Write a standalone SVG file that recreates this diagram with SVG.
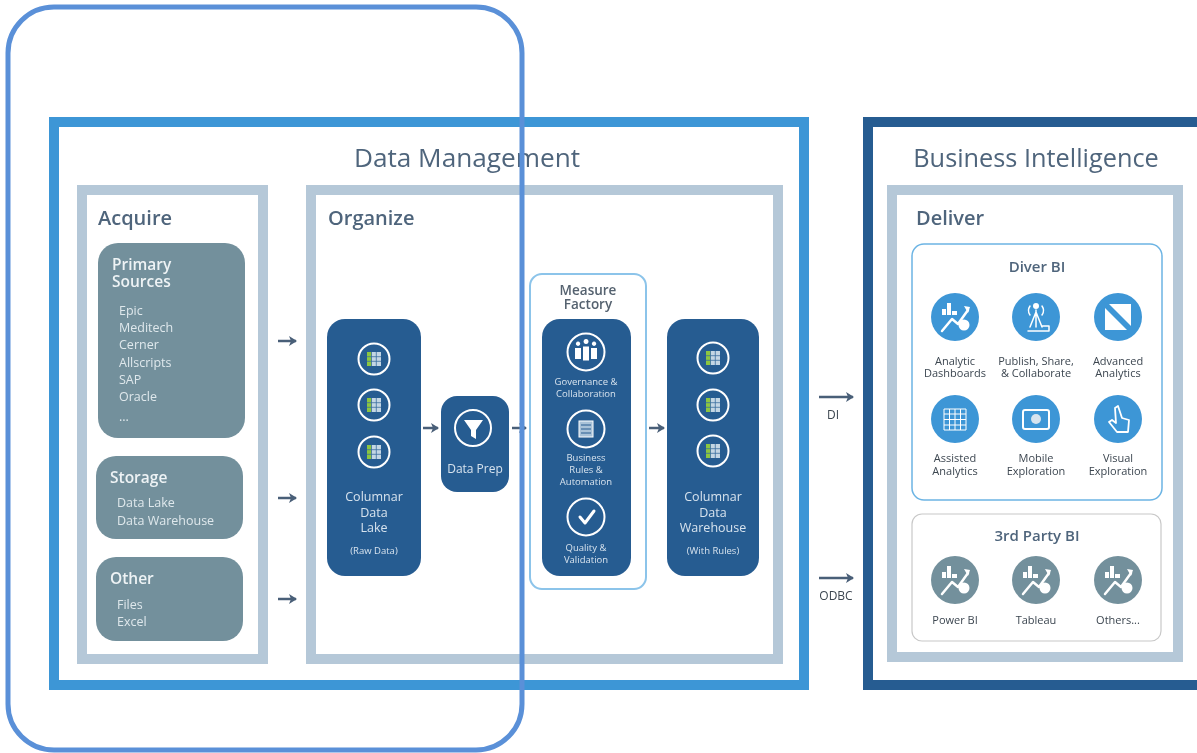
<svg xmlns="http://www.w3.org/2000/svg" xmlns:xlink="http://www.w3.org/1999/xlink" width="1197" height="753" viewBox="0 0 1197 753">
<style>
text{font-family:"Open Sans","Liberation Sans",sans-serif}
.c{text-anchor:middle}
.frame{fill:#fff;stroke:#b5c8d8;stroke-width:10}
.gray{fill:#73909c}
.navy{fill:#285c91}
.h1{font-size:26.200px;fill:#4f657c}
.h2{font-size:20px;font-weight:600;fill:#4f657c}
.h3{font-size:15.500px;font-weight:600;fill:#eef3f5}
.li{font-size:12.500px;fill:#dfe8ec}
.w{font-size:12.500px;fill:#d6e3ee}
.ws{font-size:9.500px;fill:#d6e3ee}
.lb{font-size:11px;fill:#3c4650}
.sub{font-size:15px;font-weight:600;fill:#4f657c}
.mf{font-size:13.500px;font-weight:600;fill:#55626f}
.ring{fill:none;stroke:#fff;stroke-width:2}
.ic{fill:none;stroke:#fff;stroke-width:2.500;stroke-linecap:round;stroke-linejoin:round}
.icf{fill:#fff}
.arr{stroke:#4a5f78;stroke-width:2.500;fill:none}
</style>
<defs>
<filter id="soft" x="-2%" y="-2%" width="104%" height="104%"><feGaussianBlur stdDeviation="0.6"/></filter>
<marker id="ah" viewBox="0 0 8 10" refX="7" refY="5" markerWidth="8" markerHeight="10" markerUnits="userSpaceOnUse" orient="auto"><path d="M0 0L8 5L0 10L2 5Z" fill="#4a5f78"/></marker>
<g id="tbl">
<circle r="15.500" class="ring"/>
<rect x="-7" y="-7" width="14" height="14" fill="#c4d6e4"/>
<rect x="-7" y="-7" width="4.500" height="14" fill="#8cc63f"/>
<path d="M-7-2.300H7M-7 2.300H7M-2.500-7V7M2.300-7V7" stroke="#3b6f9f" stroke-width="0.800"/>
</g>
<g id="dash">
<path class="ic" d="M-13 14L-3 2L3 7L13-7"/>
<path class="icf" d="M-13-8h4v6h-4zM-8-14h4v12h-4zM-3-6h5v4h-5zM9-11l6 1-2 6z"/>
<circle cx="9" cy="8" r="5.500" class="icf"/>
</g>
</defs>
<g filter="url(#soft)">
<g id="data-management">
<rect x="54" y="122" width="750" height="563" fill="#fff" stroke="#3d96d6" stroke-width="10"/>
<text class="h1 c" x="467" y="167">Data Management</text>
</g>
<g id="business-intelligence">
<rect x="868" y="122" width="360" height="563" fill="#fff" stroke="#285c91" stroke-width="10"/>
<text class="h1 c" x="1036" y="167" style="font-size:25.300px">Business Intelligence</text>
</g>
<g id="acquire">
<rect class="frame" x="82" y="190" width="181" height="469"/>
<text class="h2" x="98" y="225">Acquire</text>
</g>
<g id="primary-sources">
<rect class="gray" x="98" y="243" width="147" height="195" rx="20"/>
<text class="h3"><tspan x="112" y="270">Primary</tspan><tspan x="112" y="287">Sources</tspan></text>
<text class="li" x="119" y="315">Epic</text>
<text class="li" x="119" y="332">Meditech</text>
<text class="li" x="119" y="349">Cerner</text>
<text class="li" x="119" y="367">Allscripts</text>
<text class="li" x="119" y="384">SAP</text>
<text class="li" x="119" y="401">Oracle</text>
<text class="li" x="119" y="421">...</text>
</g>
<g id="storage">
<rect class="gray" x="96" y="456" width="147" height="83" rx="20"/>
<text class="h3" x="110" y="483">Storage</text>
<text class="li" x="117" y="507">Data Lake</text>
<text class="li" x="117" y="525">Data Warehouse</text>
</g>
<g id="other">
<rect class="gray" x="96" y="557" width="147" height="84" rx="20"/>
<text class="h3" x="110" y="584">Other</text>
<text class="li" x="117" y="609">Files</text>
<text class="li" x="117" y="626">Excel</text>
</g>
<g id="organize">
<rect class="frame" x="311" y="190" width="467" height="469"/>
<text class="h2" x="328" y="225">Organize</text>
</g>
<g id="columnar-data-lake">
<rect class="navy" x="327" y="319" width="94" height="257" rx="18"/>
<use href="#tbl" x="374" y="359"/><use href="#tbl" x="374" y="405"/><use href="#tbl" x="374" y="452"/>
<text class="w c" x="374" y="501">Columnar</text>
<text class="w c" x="374" y="517">Data</text>
<text class="w c" x="374" y="532">Lake</text>
<text class="ws c" x="374" y="554">(Raw Data)</text>
</g>
<g id="data-prep">
<rect class="navy" x="441" y="396" width="68" height="96" rx="16"/>
<circle class="ring" cx="473" cy="428" r="18"/>
<path class="icf" d="M464 420H483L476 430V439L471 436V430Z"/>
<text class="w c" x="475" y="473" style="font-size:12px">Data Prep</text>
</g>
<g id="measure-factory">
<rect x="530" y="274" width="116" height="315" rx="12" fill="#fff" stroke="#8cc4ea" stroke-width="2"/>
<text class="mf c"><tspan x="588" y="295">Measure</tspan><tspan x="588" y="309">Factory</tspan></text>
<rect class="navy" x="542" y="319" width="89" height="257" rx="18"/>
<circle class="ring" cx="586" cy="352" r="18.500"/>
<path class="icf" d="M578 346a2.200 2.200 0 1 1 .1 0zM586 344a2.500 2.500 0 1 1 .1 0zM594 346a2.200 2.200 0 1 1 .1 0zM575 348h6v11h-6zM583 346.500h6v14h-6zM591 348h6v11h-6z"/>
<text class="ws c" x="586" y="385">Governance &amp;</text>
<text class="ws c" x="586" y="397">Collaboration</text>
<circle class="ring" cx="586" cy="429" r="18.500"/>
<rect x="579" y="421" width="14" height="16" fill="#a9c2d8" stroke="#fff"/>
<path d="M581 425h10M581 429h10M581 433h10" stroke="#285c91"/>
<text class="ws c" x="586" y="461">Business</text>
<text class="ws c" x="586" y="473">Rules &amp;</text>
<text class="ws c" x="586" y="485">Automation</text>
<circle class="ring" cx="586" cy="517" r="18.500"/>
<path class="ic" style="stroke-width:3" d="M580 517L585 523L594 511"/>
<text class="ws c" x="586" y="551">Quality &amp;</text>
<text class="ws c" x="586" y="563">Validation</text>
</g>
<g id="columnar-data-warehouse">
<rect class="navy" x="667" y="319" width="92" height="257" rx="18"/>
<use href="#tbl" x="713" y="358"/><use href="#tbl" x="713" y="405"/><use href="#tbl" x="713" y="451"/>
<text class="w c" x="713" y="501">Columnar</text>
<text class="w c" x="713" y="517">Data</text>
<text class="w c" x="713" y="532">Warehouse</text>
<text class="ws c" x="713" y="554">(With Rules)</text>
</g>
<g id="deliver">
<rect class="frame" x="892" y="190" width="286" height="467"/>
<text class="h2" x="916" y="225">Deliver</text>
</g>
<g id="diver-bi">
<rect x="912" y="244" width="250" height="256" rx="12" fill="#fff" stroke="#6cb4e4" stroke-width="1.500"/>
<text class="sub c" x="1037" y="272">Diver BI</text>
</g>
<g id="analytic-dashboards">
<circle cx="955" cy="317" r="24" fill="#3d96d6"/><use href="#dash" x="955" y="317"/>
<text class="lb c" x="955" y="365">Analytic</text><text class="lb c" x="955" y="377">Dashboards</text>
</g>
<g id="publish-share">
<circle cx="1036" cy="317" r="24" fill="#3d96d6"/>
<path class="ic" style="stroke-width:1.500" d="M1036 310V327M1030 327L1036 312L1042 327M1028 331H1049V326H1042"/>
<path class="ic" style="stroke-width:1.500" d="M1030 306a8 8 0 0 0 0 9M1042 306a8 8 0 0 1 0 9"/>
<circle cx="1036" cy="306" r="3" class="icf"/>
<text class="lb c" x="1036" y="365">Publish, Share,</text><text class="lb c" x="1036" y="377">&amp; Collaborate</text>
</g>
<g id="advanced-analytics">
<circle cx="1118" cy="317" r="24" fill="#3d96d6"/>
<rect x="1105" y="304" width="26" height="26" class="icf"/>
<path d="M1105 304H1109L1131 326V330H1127L1105 308Z" fill="#3d96d6"/>
<text class="lb c" x="1118" y="365">Advanced</text><text class="lb c" x="1118" y="377">Analytics</text>
</g>
<g id="assisted-analytics">
<circle cx="955" cy="419" r="24" fill="#3d96d6"/>
<path d="M944 409H966V430H944ZM944 414H966M944 419.500H966M944 425H966M949.500 409V430M955 409V430M960.500 409V430" stroke="#fff" stroke-width="1" fill="none"/>
<text class="lb c" x="955" y="462">Assisted</text><text class="lb c" x="955" y="475">Analytics</text>
</g>
<g id="mobile-exploration">
<circle cx="1036" cy="419" r="24" fill="#3d96d6"/>
<rect x="1023" y="410" width="26" height="19" rx="2" fill="none" stroke="#fff" stroke-width="2"/>
<circle cx="1036" cy="419" r="5" fill="#d6e3ee"/>
<text class="lb c" x="1036" y="462">Mobile</text><text class="lb c" x="1036" y="475">Exploration</text>
</g>
<g id="visual-exploration">
<circle cx="1118" cy="419" r="24" fill="#3d96d6"/>
<path class="ic" style="stroke-width:1.800" d="M1115 408L1118 406L1122 418L1129 420L1128 432H1117L1109 422L1112 420L1116 423Z"/>
<text class="lb c" x="1118" y="462">Visual</text><text class="lb c" x="1118" y="475">Exploration</text>
</g>
<g id="third-party-bi">
<rect x="912" y="514" width="249" height="127" rx="10" fill="#fff" stroke="#c8c8c8" stroke-width="1.200"/>
<text class="sub c" x="1037" y="541">3rd Party BI</text>
</g>
<g id="power-bi">
<circle cx="955" cy="580" r="24" class="gray"/><use href="#dash" x="955" y="580"/>
<text class="lb c" x="955" y="624">Power BI</text>
</g>
<g id="tableau">
<circle cx="1036" cy="580" r="24" class="gray"/><use href="#dash" x="1036" y="580"/>
<text class="lb c" x="1036" y="624">Tableau</text>
</g>
<g id="others">
<circle cx="1118" cy="580" r="24" class="gray"/><use href="#dash" x="1118" y="580"/>
<text class="lb c" x="1118" y="624">Others...</text>
</g>
<g id="connectors">
<path class="arr" marker-end="url(#ah)" d="M278 341H296"/>
<path class="arr" marker-end="url(#ah)" d="M278 498H296"/>
<path class="arr" marker-end="url(#ah)" d="M278 599H296"/>
<path class="arr" marker-end="url(#ah)" d="M423 428H438"/>
<path class="arr" marker-end="url(#ah)" d="M512 428H526"/>
<path class="arr" marker-end="url(#ah)" d="M649 428H664"/>
<path class="arr" marker-end="url(#ah)" d="M819 397H853"/>
<path class="arr" marker-end="url(#ah)" d="M819 578H853"/>
</g>
<text class="lb c" style="font-size:12px" x="833" y="419">DI</text>
<text class="lb c" style="font-size:12px" x="836" y="600">ODBC</text>
</g>
<rect id="highlight" x="8" y="7" width="514" height="743" rx="46" fill="none" stroke="#5a90d8" stroke-width="5"/>
</svg>
